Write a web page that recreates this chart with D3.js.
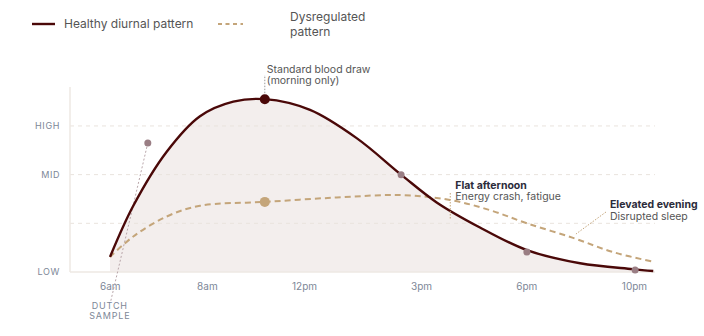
<!DOCTYPE html>
<html>
<head>
<meta charset="utf-8">
<script src="https://cdn.jsdelivr.net/npm/d3@7"></script>
<style>
  body { margin: 0; background: #fff; font-family: Inter, "Noto Sans", sans-serif; }
</style>
</head>
<body>
<div id="chart"></div>
<script>
// x is a 0..100 "day position" scale, y is level (LOW=0 .. HIGH=3)
const tickLabels = ["6am", "8am", "12pm", "3pm", "6pm", "10pm"];
const tickPos = [6.8, 23.4, 40, 60, 78, 96.4];

const levelLabels = ["LOW", "MID", "HIGH"];
const levelValues = [0, 2, 3];
const gridValues = [1, 2, 3];

const healthyT = [6.84, 10.82, 16.53, 22.22, 27.91, 33.33, 41.03, 49.0, 56.7, 62.68, 70, 78.1, 87.2, 96.2, 99.7];
const healthyV = [0.31, 1.36, 2.47, 3.2, 3.5, 3.55, 3.33, 2.75, 1.99, 1.43, 0.92, 0.45, 0.18, 0.06, 0.02];

const dysT = [6.84, 10.82, 16.53, 22.22, 33.33, 45.59, 56.41, 64.96, 71.8, 78.1, 86, 92.8, 99.7];
const dysV = [0.31, 0.73, 1.14, 1.36, 1.44, 1.53, 1.58, 1.48, 1.27, 1.0, 0.70, 0.41, 0.21];

const sampleT = [13.3, 56.6, 78.1, 96.6];
const sampleV = [2.65, 2.0, 0.41, 0.04];

const peakT = 33.3, peakV = 3.55, dysMarkV = 1.44;

const healthy = healthyT.map((t, i) => ({t, v: healthyV[i]}));
const dys = dysT.map((t, i) => ({t, v: dysV[i]}));
const samples = sampleT.map((t, i) => ({t, v: sampleV[i]}));

const W = 704, H = 336;
const margin = {top: 87, right: 49, bottom: 64, left: 70};
const width = W - margin.left - margin.right,
      height = H - margin.top - margin.bottom;

const svg = d3.select("#chart").append("svg")
  .attr("width", W).attr("height", H)
  .style("font-family", "Inter, 'Noto Sans', sans-serif");

const g = svg.append("g").attr("transform", `translate(${margin.left}, ${margin.top})`);

const x = d3.scaleLinear().domain([0, 100]).range([0, width]);
const y = d3.scaleLinear().domain([0, 3.8]).range([height, 0]);

const dark = "#4a0808", tan = "#c4a57a", mauve = "#9a7e84", gray = "#7d8797";
const curve = d3.curveCatmullRom.alpha(0.5);

// fill under healthy curve
g.append("path")
  .datum(healthy)
  .attr("fill", "#f3eeed")
  .attr("d", d3.area().x(d => x(d.t)).y0(y(0)).y1(d => y(d.v)).curve(curve));

// gridlines
g.selectAll(".grid").data(gridValues).join("line")
  .attr("x1", 0).attr("x2", width)
  .attr("y1", d => y(d)).attr("y2", d => y(d))
  .attr("stroke", "#e9e3dd").attr("stroke-dasharray", "4,4");

// axes lines
g.append("line").attr("x1", 0).attr("x2", 0).attr("y1", 0).attr("y2", height)
  .attr("stroke", "#eee8e3").attr("stroke-width", 1.5);
g.append("line").attr("x1", 0).attr("x2", width).attr("y1", height).attr("y2", height)
  .attr("stroke", "#eee8e3").attr("stroke-width", 1.5);

// y labels
g.selectAll(".ylab").data(levelValues).join("text")
  .attr("x", -10).attr("y", d => y(d)).attr("dy", "0.35em")
  .attr("text-anchor", "end").attr("fill", gray)
  .style("font-size", "9px").style("letter-spacing", "0.6px")
  .text((d, i) => levelLabels[i]);

// x axis
const xAxis = g.append("g")
  .attr("transform", `translate(0, ${height})`)
  .call(d3.axisBottom(x).tickValues(tickPos).tickSize(0).tickPadding(11)
    .tickFormat((d, i) => tickLabels[i]));
xAxis.select(".domain").remove();
xAxis.selectAll("text").attr("fill", gray).style("font-size", "10px").style("font-family", "Inter, sans-serif");

// dutch sample connector
g.append("line")
  .attr("x1", x(sampleT[0])).attr("y1", y(sampleV[0]))
  .attr("x2", x(tickPos[0]) + 1).attr("y2", height + 29)
  .attr("stroke", "#b9a6aa").attr("stroke-width", 1).attr("stroke-dasharray", "2,2");
g.append("text").attr("x", x(tickPos[0])).attr("y", height + 37)
  .attr("text-anchor", "middle").attr("fill", gray)
  .style("font-size", "9px").style("letter-spacing", "0.8px").text("DUTCH");
g.append("text").attr("x", x(tickPos[0])).attr("y", height + 47)
  .attr("text-anchor", "middle").attr("fill", gray)
  .style("font-size", "9px").style("letter-spacing", "0.8px").text("SAMPLE");

// dysregulated line
g.append("path").datum(dys)
  .attr("fill", "none").attr("stroke", tan).attr("stroke-width", 2)
  .attr("stroke-dasharray", "6,4")
  .attr("d", d3.line().x(d => x(d.t)).y(d => y(d.v)).curve(curve));

// healthy line
g.append("path").datum(healthy)
  .attr("fill", "none").attr("stroke", dark).attr("stroke-width", 2.4)
  .attr("d", d3.line().x(d => x(d.t)).y(d => y(d.v)).curve(curve));

// sample dots
g.selectAll(".sample").data(samples).join("circle")
  .attr("cx", d => x(d.t)).attr("cy", d => y(d.v)).attr("r", 3.5)
  .attr("fill", mauve);

// peak annotation
g.append("line")
  .attr("x1", x(peakT)).attr("x2", x(peakT))
  .attr("y1", y(peakV) - 6).attr("y2", -12)
  .attr("stroke", "#999").attr("stroke-dasharray", "1.5,1.5");
g.append("circle").attr("cx", x(peakT)).attr("cy", y(peakV)).attr("r", 5).attr("fill", dark);
g.append("circle").attr("cx", x(peakT)).attr("cy", y(dysMarkV)).attr("r", 5).attr("fill", tan);
g.append("text").attr("x", x(peakT) + 2).attr("y", -14)
  .attr("fill", "#555").style("font-size", "10.5px").text("Standard blood draw");
g.append("text").attr("x", x(peakT) + 2).attr("y", -3)
  .attr("fill", "#555").style("font-size", "10.5px").text("(morning only)");

// flat afternoon
const faX = x(65.0);
g.append("line").attr("x1", faX).attr("x2", faX)
  .attr("y1", 106).attr("y2", 132)
  .attr("stroke", tan).attr("stroke-dasharray", "1.5,1.5");
g.append("text").attr("x", faX + 5).attr("y", 102)
  .attr("fill", "#2b2b3a").style("font-size", "10.5px").style("font-weight", "bold").text("Flat afternoon");
g.append("text").attr("x", faX + 5).attr("y", 113)
  .attr("fill", "#555").style("font-size", "10.5px").text("Energy crash, fatigue");

// elevated evening
const eeX = x(92.3);
g.append("line").attr("x1", eeX - 4).attr("y1", 125)
  .attr("x2", eeX - 34).attr("y2", 147)
  .attr("stroke", tan).attr("stroke-dasharray", "1.5,1.5");
g.append("text").attr("x", eeX).attr("y", 121)
  .attr("fill", "#2b2b3a").style("font-size", "10.5px").style("font-weight", "bold").text("Elevated evening");
g.append("text").attr("x", eeX).attr("y", 133)
  .attr("fill", "#555").style("font-size", "10.5px").text("Disrupted sleep");

// legend
const lg = svg.append("g");
lg.append("line").attr("x1", 32).attr("x2", 55).attr("y1", 24).attr("y2", 24)
  .attr("stroke", dark).attr("stroke-width", 2.4);
lg.append("text").attr("x", 64).attr("y", 24).attr("dy", "0.35em")
  .attr("fill", "#555").style("font-size", "12px").text("Healthy diurnal pattern");
lg.append("line").attr("x1", 218).attr("x2", 243).attr("y1", 24).attr("y2", 24)
  .attr("stroke", tan).attr("stroke-width", 2).attr("stroke-dasharray", "4,3.5");
lg.append("text").attr("x", 290).attr("y", 17).attr("dy", "0.35em")
  .attr("fill", "#555").style("font-size", "12px").text("Dysregulated");
lg.append("text").attr("x", 290).attr("y", 32).attr("dy", "0.35em")
  .attr("fill", "#555").style("font-size", "12px").text("pattern");
</script>
</body>
</html>
